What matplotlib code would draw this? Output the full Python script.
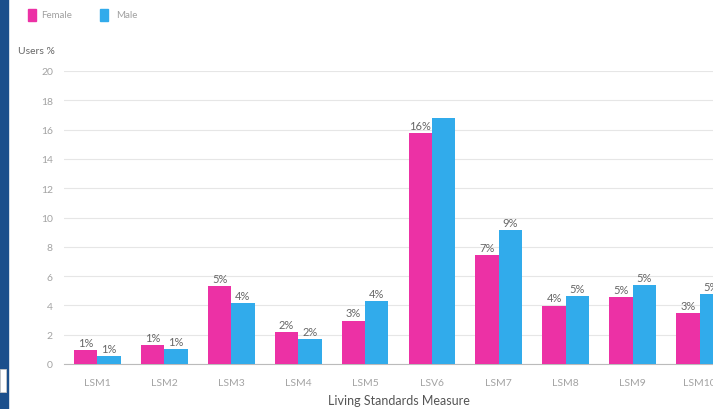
import matplotlib.pyplot as plt
import matplotlib.patches as mpatches
import numpy as np

plt.rcParams['font.family'] = ['Lato', 'DejaVu Sans']

# share of users per living standards group (%)
groups = ['LSM1', 'LSM2', 'LSM3', 'LSM4', 'LSM5', 'LSV6', 'LSM7', 'LSM8', 'LSM9', 'LSM10']
female = [0.96, 1.3, 5.3, 2.16, 2.96, 15.77, 7.46, 3.98, 4.55, 3.48]
male = [0.55, 1.0, 4.14, 1.7, 4.32, 16.77, 9.15, 4.66, 5.39, 4.78]
no_label_male = [5]  # value label not shown on this bar

pink = '#EC31A5'
blue = '#31ABEB'
grey = '#A3A3A3'

fig = plt.figure(figsize=(7.13, 4.10), dpi=100)

# dark side strip on the left edge
fig.patches.append(mpatches.Rectangle((0, 0), 8 / 713, 1, transform=fig.transFigure,
                                      color='#1B4F8C', zorder=0))
fig.patches.append(mpatches.Rectangle((0, 17 / 410), 6 / 713, 23 / 410, transform=fig.transFigure,
                                      facecolor='white', edgecolor='#c8c8c8', lw=0.6, zorder=1))

ax = fig.add_axes([64 / 713, 45 / 410, 669 / 713, 293 / 410])

x = np.arange(len(groups))
w = 0.35
bf = ax.bar(x - w / 2, female, w, color=pink, zorder=3)
bm = ax.bar(x + w / 2, male, w, color=blue, zorder=3)

for i, b in enumerate(bf):
    ax.text(b.get_x() + b.get_width() / 2, b.get_height() + 0.15, '%d%%' % round(female[i]),
            ha='center', va='bottom', fontsize=8, color='#666666')
for i, b in enumerate(bm):
    if i in no_label_male:
        continue
    ax.text(b.get_x() + b.get_width() / 2, b.get_height() + 0.15, '%d%%' % round(male[i]),
            ha='center', va='bottom', fontsize=8, color='#666666')

ax.set_xlim(-0.5, len(groups) - 0.5)
ax.set_ylim(0, 20)
ax.set_yticks(range(0, 21, 2))
ax.set_xticks(x)
ax.set_xticklabels(groups)
ax.grid(axis='y', color='#E6E6E6', lw=0.8, zorder=0)
for s in ['top', 'right', 'left']:
    ax.spines[s].set_visible(False)
ax.spines['bottom'].set_color('#BBBBBB')
ax.tick_params(axis='both', length=0, labelsize=7.5, colors=grey)
ax.tick_params(axis='y', pad=8)
ax.tick_params(axis='x', pad=10)

ax.set_xlabel('Living Standards Measure', fontsize=9, color='#555555', labelpad=5)
fig.text(18 / 713, 1 - 51 / 410, 'Users %', fontsize=7.5, color='#666666', va='center')

# legend
fig.patches.append(mpatches.Rectangle((28 / 713, 1 - 22 / 410), 8 / 713, 12 / 410,
                                      transform=fig.transFigure, color=pink))
fig.text(41 / 713, 1 - 16 / 410, 'Female', fontsize=7, color='#A0A0A0', va='center')
fig.patches.append(mpatches.Rectangle((100 / 713, 1 - 22 / 410), 8 / 713, 12 / 410,
                                      transform=fig.transFigure, color=blue))
fig.text(116 / 713, 1 - 16 / 410, 'Male', fontsize=7, color='#A0A0A0', va='center')

fig.savefig('out.png', dpi=100)
